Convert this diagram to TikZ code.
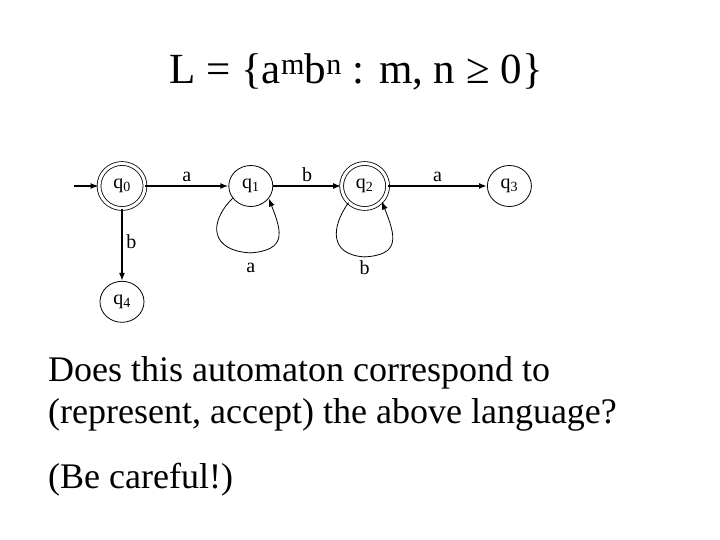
\documentclass[tikz,border=0pt]{standalone}
\usepackage{fontspec}
\setmainfont{Liberation Serif}
\usetikzlibrary{arrows.meta,positioning,shapes.geometric}
\tikzset{
  >={Latex[length=8pt,width=6pt]},
  plainstate/.style={
    ellipse,
    draw,
    line width=0.8pt,
    minimum width=44pt,
    minimum height=41pt,
    inner sep=0pt,
    font=\fontsize{20}{22}\selectfont
  },
  finalstate/.style={plainstate, double, double distance=3pt, minimum width=46pt, minimum height=45pt},
  edge/.style={->, line width=2pt},
  loopline/.style={->, line width=0.8pt},
  lab/.style={font=\fontsize{20}{22}\selectfont},
  bigtext/.style={font=\fontsize{36}{42}\selectfont, anchor=base west, inner sep=0pt}
}
\begin{document}
\begin{tikzpicture}[x=1pt, y=-1pt]
  \useasboundingbox (0,0) rectangle (720,540);
  \node[font=\fontsize{43}{50}\selectfont, anchor=base, inner sep=0pt] (title) at (356,84)
    {L = \{a\textsuperscript{m}b\textsuperscript{n} : m, n ≥ 0\}};

  \node[finalstate] (q0) at (122,186) {q\textsubscript{0}};
  \node[plainstate, right=83pt of q0] (q1) {q\textsubscript{1}};
  \node[finalstate, right=68pt of q1] (q2) {q\textsubscript{2}};
  \node[plainstate, right=99pt of q2] (q3) {q\textsubscript{3}};
  \node[plainstate, below=72pt of q0] (q4) {q\textsubscript{4}};
  \coordinate[left=25pt of q0] (start);

  \draw[edge] (start) -- (q0);
  \draw[edge] (q0) -- node[lab, above] {a} (q1);
  \draw[edge] (q1) -- node[lab, above] {b} (q2);
  \draw[edge] (q2) -- node[lab, above] {a} (q3);
  \draw[edge] (q0) -- node[lab, right, pos=0.45] {b} (q4);

  % self loops
  \draw[loopline] (q1.214) .. controls +(-25,25) and +(-40,-2) .. ([yshift=-46pt]q1.south)
    node[lab, below=6pt] {a}
    .. controls +(35,-3) and +(14,35) .. (q1.-35);
  \draw[loopline] (q2.226) .. controls +(-18,25) and +(-35,-2) .. ([yshift=-48pt]q2.south)
    node[lab, below=0pt] {b}
    .. controls +(36,-2) and +(14,35) .. (q2.-42);

  \node[bigtext, align=left] (question) at (48,423)
    {Does this automaton correspond to\\(represent, accept) the above language?};
  \node[bigtext] (careful) at (48,488) {(Be careful!)};
\end{tikzpicture}
\end{document}
